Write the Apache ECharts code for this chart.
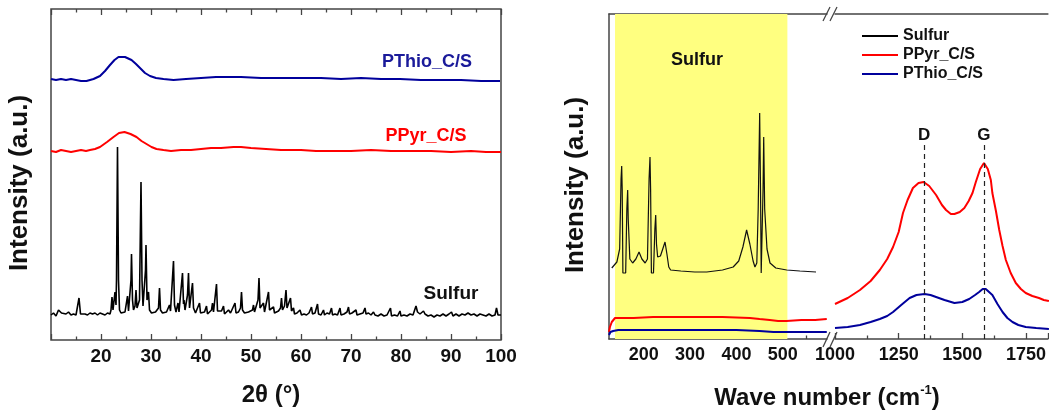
<!DOCTYPE html>
<html>
<head>
<meta charset="utf-8">
<script src="https://cdn.jsdelivr.net/npm/echarts@6/dist/echarts.min.js"></script>
<style>
  html, body { margin: 0; padding: 0; background: #fff; }
  #chart { width: 1049px; height: 414px; }
</style>
</head>
<body>
<div id="chart"></div>
<script>
// ---- XRD patterns: [2θ (°), intensity (a.u., curves offset vertically)] ----
const xrdSulfur = [
  [10.0,25],[10.5,27],[11.0,24],[11.5,30],[11.8,32],[12.1,27],[12.5,29],[13.0,26],[13.5,28],[14.0,25],
  [14.5,26],[15.0,25],[15.3,27],[15.6,42],[15.9,26],[16.3,24],[16.8,26],[17.3,25],[17.8,27],[18.3,26],
  [18.8,27],[19.3,25],[19.8,27],[20.3,26],[20.8,25],[21.3,27],[21.8,26],[22.0,30],[22.2,43],[22.4,30],
  [22.6,32],[22.8,48],[23.0,35],[23.1,60],[23.3,193],[23.5,60],[23.7,30],[24.0,27],[24.4,25],[24.8,28],
  [25.1,30],[25.3,44],[25.5,29],[25.8,30],[26.0,60],[26.1,86],[26.3,40],[26.5,30],[26.8,34],[27.0,50],
  [27.2,32],[27.5,30],[27.7,40],[27.9,120],[28.0,158],[28.2,60],[28.4,34],[28.7,36],[28.9,70],[29.0,95],
  [29.2,40],[29.5,48],[29.7,30],[30.1,27],[30.5,26],[30.9,28],[31.3,26],[31.5,32],[31.7,52],[31.9,30],
  [32.3,27],[32.7,26],[33.1,28],[33.5,30],[33.7,35],[33.9,29],[34.2,30],[34.5,79],[34.7,35],[35.0,28],
  [35.4,37],[35.6,28],[36.0,30],[36.3,67],[36.5,36],[36.6,40],[36.8,30],[37.1,32],[37.3,45],[37.5,67],
  [37.7,32],[38.0,34],[38.3,57],[38.5,32],[38.9,27],[39.3,29],[39.7,37],[39.9,27],[40.3,26],[40.7,28],
  [41.1,34],[41.3,26],[41.7,28],[42.1,30],[42.3,37],[42.5,28],[42.8,30],[43.1,56],[43.3,29],[43.7,27],
  [44.1,29],[44.5,34],[44.7,26],[45.1,28],[45.5,30],[45.9,27],[46.3,29],[46.8,37],[47.0,27],[47.5,28],
  [47.9,32],[48.1,48],[48.3,30],[48.7,27],[49.1,26],[49.5,28],[49.9,27],[50.3,30],[50.5,35],[50.7,28],
  [51.1,28],[51.4,40],[51.6,62],[51.8,32],[52.2,30],[52.5,37],[52.7,28],[53.1,30],[53.5,48],[53.7,30],
  [54.1,28],[54.5,33],[54.7,27],[55.1,27],[55.5,29],[55.9,32],[56.1,42],[56.3,30],[56.7,34],[57.0,50],
  [57.2,32],[57.5,30],[57.9,42],[58.1,29],[58.5,32],[58.7,26],[59.2,27],[59.8,30],[60.1,25],[60.6,26],
  [61.1,25],[61.6,27],[62.1,33],[62.3,26],[62.8,27],[63.3,36],[63.5,26],[64.0,25],[64.5,30],[64.7,25],
  [65.2,27],[65.7,26],[66.1,32],[66.3,25],[66.8,26],[67.3,25],[67.8,32],[68.0,25],[68.6,26],[69.2,28],
  [69.5,33],[69.7,26],[70.2,27],[70.6,26],[71.0,30],[71.2,25],[71.8,26],[72.4,27],[72.8,32],[73.0,26],
  [73.5,27],[74.0,25],[74.5,28],[74.8,25],[75.4,24],[76.0,26],[76.6,24],[77.2,25],[77.9,32],[78.1,24],
  [78.7,25],[79.3,24],[79.8,29],[80.0,24],[80.6,25],[81.2,24],[81.8,26],[82.4,25],[83.0,34],[83.3,28],
  [83.8,26],[84.2,27],[84.5,29],[84.8,26],[85.4,24],[86.0,25],[86.6,23],[87.2,25],[87.8,24],[88.4,26],
  [89.0,24],[89.6,26],[90.1,28],[90.4,24],[91.0,26],[91.6,24],[92.2,26],[92.8,25],[93.4,27],[94.0,25],
  [94.6,26],[95.2,24],[95.8,26],[96.4,25],[97.0,24],[97.6,26],[98.2,24],[98.8,25],[99.1,32],[99.4,25],
  [100,25]
];
const xrdPPyr = [
  [10,189],[11,188],[12,190],[13,189],[14,188],[15,189],[16,190],[17,189],[17.8,190],[18.8,191],
  [19.8,193],[21.2,198],[22.5,203],[23.6,207],[24.7,208],[25.9,206],[27.1,203],[28.1,199],[29.1,196],
  [30.1,193],[31.1,191],[32.5,190],[34,189],[36,190],[38,190],[40,191],[42,192],[44,192],[46.5,193],
  [48,193],[50,192],[53,191],[56,190],[60,190],[63,189],[66.5,189],[70,189],[74,190],[78,189],
  [82,189],[86,189],[90,188],[94,189],[97,188],[100,188]
];
const xrdPThio = [
  [10,261],[11,260],[12,261],[13,260],[14,261],[15,260],[16,259],[17.1,259],[18.5,261],[19.8,264],
  [20.8,269],[21.8,275],[22.7,280],[23.5,283],[24.8,283],[26.1,280],[27.0,276],[27.8,272],[28.8,267],
  [29.8,264],[31.0,262],[32.5,261],[34.5,260],[37,261],[40,262],[43,263],[45.1,263],[48,263],
  [52,262],[56,262],[59.8,262],[64,262],[68,261],[72,262],[76,261],[79.8,261],[84,260],[88,260],
  [92,260],[96,259],[99.8,259]
];

// ---- Raman spectra: [wave number (cm-1), intensity (a.u., offset)] ----
const ramanSulfur = [
  [131,71],[142,77],[148,90],[151,160],[152.4,173],[153.5,150],[155,66],[161,66],[163.5,130],[165.3,149],
  [166.5,120],[170,80],[176,76],[183,80],[189.8,87],[196,80],[203,76],[208,80],[211.5,160],[213.5,182],
  [214.8,150],[216.5,66],[221,66],[224,110],[225.8,124],[227.5,95],[230,82],[236,83],[241,90],[245.9,97],
  [250,85],[254,72],[258,69],[280,68],[310,67],[336,67],[370,69],[393,72],[405,78],[414,92],[422,109],
  [429,95],[436,78],[440,72],[444,76],[447,130],[450.2,226],[452,150],[453.5,66],[456,66],[457.5,150],
  [458.9,202],[461,130],[466,90],[472.5,76],[485,71],[508.5,69],[537,68],[571.8,67]
];
const ramanPPyrLow = [
  [125,7],[127,12],[131,17],[138,21],[150,21],[178,21],[220,22],[260,22],[321,22],[370,22],
  [429,21],[450,20],[472,19],[490,18],[508,18],[540,19],[570,19],[595,20]
];
const ramanPThioLow = [
  [125,4],[128,7],[134,8],[145,9],[180,9],[250,9],[321,9],[400,9],[450,8],[480,7],[520,7],[560,7],[595,7]
];
const ramanPPyrHigh = [
  [1000,35],[1050,41],[1098,49],[1140,58],[1176,69],[1205,80],[1228,92],[1250,107],[1267,126],[1285,139],
  [1306,151],[1328,156],[1348,157],[1370,153],[1397,144],[1420,134],[1436,129],[1455,125],[1469,125],
  [1490,127],[1508,131],[1525,138],[1540,146],[1553,157],[1570,170],[1585,176],[1600,170],[1612,159],
  [1618,146],[1632,128],[1645,109],[1658,93],[1671,79],[1690,66],[1710,56],[1730,50],[1749,46],
  [1775,43],[1801,41],[1820,39],[1840,38]
];
const ramanPThioHigh = [
  [1000,11],[1050,12],[1098,14],[1140,17],[1176,20],[1205,23],[1228,27],[1260,34],[1293,41],[1320,44],
  [1352,45],[1375,44],[1397,42],[1430,39],[1469,36],[1500,37],[1527,40],[1550,44],[1566,47],[1580,50],
  [1592,50],[1605,47],[1618,44],[1638,35],[1658,27],[1677,21],[1697,17],[1720,14],[1749,12],[1790,11],
  [1840,10]
];

// Band positions and sulfur window
const bandD = 1350;
const bandG = 1585;
const bandTop = 197;
const sulfurWindow = [138, 510];

// Axis ranges and tick values
const lowRange = [125, 595.5];
const highRange = [1000, 1836];
const lowMajorTicks = [200, 300, 400, 500];
const lowMinorTicks = [150, 250, 350, 450, 550];

const FONT = '"Liberation Sans", Arial, Helvetica, sans-serif';
const AXIS_COLOR = '#444';
const BLUE = '#00009C';
const RED = '#FF0000';

function tag(text, coord, color, size) {
  return {
    coord: coord, symbol: 'rect', symbolSize: 1,
    itemStyle: { color: 'rgba(0,0,0,0)' },
    label: { show: true, position: 'inside', formatter: text, color: color,
             fontSize: size, fontWeight: 'bold', fontFamily: FONT }
  };
}

const tickLabel = (size) => ({ color: '#111', fontSize: size, fontWeight: 'bold', fontFamily: FONT, margin: 7 });

const chart = echarts.init(document.getElementById('chart'), null, { renderer: 'canvas' });

chart.setOption({
  animation: false,
  backgroundColor: '#fff',
  legend: {
    data: ['Sulfur', 'PPyr_C/S', 'PThio_C/S'],
    orient: 'vertical', left: 861, top: 26.5, padding: 0,
    itemWidth: 36, itemHeight: 19, itemGap: 0,
    selectedMode: false,
    itemStyle: { opacity: 0 },
    textStyle: { fontSize: 16, fontWeight: 'bold', fontFamily: FONT, color: '#111', lineHeight: 19 }
  },
  grid: [
    { left: 51, top: 9, width: 450, height: 331, show: true, borderColor: AXIS_COLOR, borderWidth: 1.5 },
    { left: 609, top: 14, width: 218, height: 325 },
    { left: 835, top: 14, right: 0, height: 325 }
  ],
  xAxis: [
    { // XRD bottom
      gridIndex: 0, type: 'value', min: 10, max: 100, interval: 10, position: 'bottom',
      axisLine: { show: false },
      axisTick: { show: true, inside: true, length: 6, lineStyle: { color: AXIS_COLOR, width: 1.3 } },
      minorTick: { show: true, splitNumber: 2, length: 3.5, lineStyle: { color: AXIS_COLOR, width: 1.3 } },
      axisLabel: Object.assign(tickLabel(19), { showMinLabel: false }),
      splitLine: { show: false }
    },
    { // XRD top (mirror ticks)
      gridIndex: 0, type: 'value', min: 10, max: 100, interval: 10, position: 'top',
      axisLine: { show: false },
      axisTick: { show: true, inside: true, length: 6, lineStyle: { color: AXIS_COLOR, width: 1.3 } },
      minorTick: { show: true, splitNumber: 2, length: 3.5, lineStyle: { color: AXIS_COLOR, width: 1.3 } },
      axisLabel: { show: false }, splitLine: { show: false }
    },
    { // Raman low segment, major ticks + labels
      gridIndex: 1, type: 'value', min: lowRange[0], max: lowRange[1], position: 'bottom',
      axisLine: { show: true, lineStyle: { color: AXIS_COLOR, width: 1.5 } },
      axisTick: { show: true, inside: true, length: 6, customValues: lowMajorTicks, lineStyle: { color: AXIS_COLOR, width: 1.3 } },
      axisLabel: Object.assign(tickLabel(18), { customValues: lowMajorTicks }),
      splitLine: { show: false }
    },
    { // Raman low segment, minor ticks
      gridIndex: 1, type: 'value', min: lowRange[0], max: lowRange[1], position: 'bottom',
      axisLine: { show: false },
      axisTick: { show: true, inside: true, length: 3.5, customValues: lowMinorTicks, lineStyle: { color: AXIS_COLOR, width: 1.3 } },
      axisLabel: { show: false }, splitLine: { show: false }
    },
    { // Raman low segment, top frame line
      gridIndex: 1, type: 'value', min: lowRange[0], max: lowRange[1], position: 'top',
      axisLine: { show: true, lineStyle: { color: AXIS_COLOR, width: 1.5 } },
      axisTick: { show: false }, axisLabel: { show: false }, splitLine: { show: false }
    },
    { // Raman high segment
      gridIndex: 2, type: 'value', min: highRange[0], max: highRange[1], interval: 250, position: 'bottom',
      axisLine: { show: true, lineStyle: { color: AXIS_COLOR, width: 1.5 } },
      axisTick: { show: true, inside: true, length: 6, lineStyle: { color: AXIS_COLOR, width: 1.3 } },
      minorTick: { show: true, splitNumber: 2, length: 3.5, lineStyle: { color: AXIS_COLOR, width: 1.3 } },
      axisLabel: Object.assign(tickLabel(18), {
        showMaxLabel: false,
        formatter: (v) => (v % 250 === 0 ? String(v) : '')
      }),
      splitLine: { show: false }
    },
    { // Raman high segment, top frame line
      gridIndex: 2, type: 'value', min: highRange[0], max: highRange[1], position: 'top',
      axisLine: { show: true, lineStyle: { color: AXIS_COLOR, width: 1.5 } },
      axisTick: { show: false }, axisLabel: { show: false }, splitLine: { show: false }
    }
  ],
  yAxis: [
    { gridIndex: 0, type: 'value', min: 0, max: 331, show: false },
    { gridIndex: 1, type: 'value', min: 0, max: 325,
      axisLine: { show: true, lineStyle: { color: AXIS_COLOR, width: 1.5 } },
      axisTick: { show: false }, axisLabel: { show: false }, splitLine: { show: false } },
    { gridIndex: 2, type: 'value', min: 0, max: 325, show: false }
  ],
  series: [
    {
      name: 'Sulfur', type: 'line', xAxisIndex: 0, yAxisIndex: 0, data: xrdSulfur,
      symbol: 'none', lineStyle: { color: '#000', width: 1.6 }, itemStyle: { color: '#000' },
      markPoint: { silent: true, data: [tag('Sulfur', [90, 46], '#111', 19)] }
    },
    {
      name: 'PPyr_C/S', type: 'line', xAxisIndex: 0, yAxisIndex: 0, data: xrdPPyr,
      symbol: 'none', lineStyle: { color: RED, width: 2 }, itemStyle: { color: RED },
      markPoint: { silent: true, data: [tag('PPyr_C/S', [85, 204], RED, 18)] }
    },
    {
      name: 'PThio_C/S', type: 'line', xAxisIndex: 0, yAxisIndex: 0, data: xrdPThio,
      symbol: 'none', lineStyle: { color: BLUE, width: 2 }, itemStyle: { color: BLUE },
      markPoint: { silent: true, data: [tag('PThio_C/S', [85.2, 278], '#1A1A9A', 18)] }
    },
    {
      name: 'window', type: 'line', xAxisIndex: 2, yAxisIndex: 1, data: [], z: 1,
      markArea: {
        silent: true,
        itemStyle: { color: '#FFFF80' },
        data: [[{ xAxis: sulfurWindow[0] }, { xAxis: sulfurWindow[1] }]]
      },
      markPoint: { silent: true, data: [tag('Sulfur', [315, 279], '#111', 18)] }
    },
    {
      name: 'Sulfur', type: 'line', xAxisIndex: 2, yAxisIndex: 1, data: ramanSulfur,
      symbol: 'none', lineStyle: { color: '#111', width: 1.2 }, itemStyle: { color: '#000' }
    },
    {
      name: 'PPyr_C/S', type: 'line', xAxisIndex: 2, yAxisIndex: 1, data: ramanPPyrLow,
      symbol: 'none', lineStyle: { color: RED, width: 2 }, itemStyle: { color: RED }
    },
    {
      name: 'PThio_C/S', type: 'line', xAxisIndex: 2, yAxisIndex: 1, data: ramanPThioLow,
      symbol: 'none', lineStyle: { color: BLUE, width: 2 }, itemStyle: { color: BLUE }
    },
    {
      name: 'PPyr_C/S', type: 'line', xAxisIndex: 5, yAxisIndex: 2, data: ramanPPyrHigh,
      symbol: 'none', lineStyle: { color: RED, width: 2 }, itemStyle: { color: RED },
      markLine: {
        silent: true, symbol: ['none', 'none'],
        lineStyle: { color: '#222', type: [5, 4], width: 1.2 },
        label: { show: true, position: 'end', distance: -2, formatter: '{b}',
                 color: '#111', fontSize: 17, fontWeight: 'bold', fontFamily: FONT },
        data: [
          [{ name: 'D', coord: [bandD, 0] }, { coord: [bandD, bandTop] }],
          [{ name: 'G', coord: [bandG, 0] }, { coord: [bandG, bandTop] }]
        ]
      }
    },
    {
      name: 'PThio_C/S', type: 'line', xAxisIndex: 5, yAxisIndex: 2, data: ramanPThioHigh,
      symbol: 'none', lineStyle: { color: BLUE, width: 2 }, itemStyle: { color: BLUE }
    }
  ],
  graphic: [
    // axis titles
    { type: 'text', x: 20, y: 183, rotation: Math.PI / 2,
      style: { text: 'Intensity (a.u.)', fill: '#111', font: 'bold 26px ' + FONT, align: 'center', verticalAlign: 'middle' } },
    { type: 'text', x: 576, y: 185, rotation: Math.PI / 2,
      style: { text: 'Intensity (a.u.)', fill: '#111', font: 'bold 26px ' + FONT, align: 'center', verticalAlign: 'middle' } },
    { type: 'text', x: 271, y: 395,
      style: { text: '2θ (°)', fill: '#111', font: 'bold 24px ' + FONT, align: 'center', verticalAlign: 'middle' } },
    { type: 'text', x: 827, y: 398,
      style: {
        text: '{a|Wave number (cm}{s|-1}{a|)}', align: 'center', verticalAlign: 'middle',
        rich: {
          a: { fill: '#111', font: 'bold 24px ' + FONT, lineHeight: 28 },
          s: { fill: '#111', font: 'bold 13px ' + FONT, verticalAlign: 'top', lineHeight: 28 }
        }
      } },
    // axis break marks
    { type: 'line', shape: { x1: 823, y1: 21, x2: 830, y2: 7 }, style: { stroke: AXIS_COLOR, lineWidth: 1.3 } },
    { type: 'line', shape: { x1: 830, y1: 21, x2: 837, y2: 7 }, style: { stroke: AXIS_COLOR, lineWidth: 1.3 } },
    { type: 'line', shape: { x1: 823, y1: 347, x2: 830, y2: 332 }, style: { stroke: AXIS_COLOR, lineWidth: 1.3 } },
    { type: 'line', shape: { x1: 830, y1: 347, x2: 837, y2: 332 }, style: { stroke: AXIS_COLOR, lineWidth: 1.3 } }
  ]
});
</script>
</body>
</html>
